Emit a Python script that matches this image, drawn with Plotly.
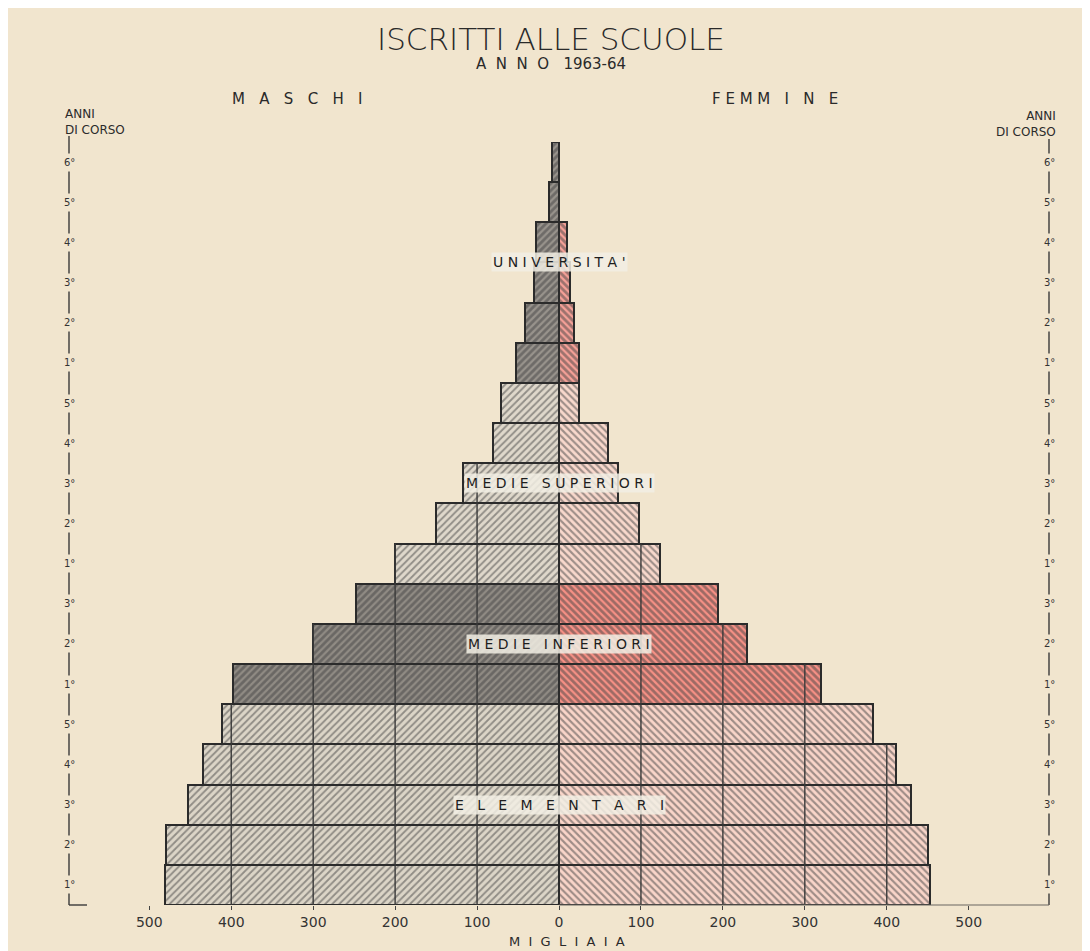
import plotly.graph_objects as go

# ---------------- data (thousands of students, 1963-64) ----------------
groups = (["ELEMENTARI"] * 5 + ["MEDIE INFERIORI"] * 3 +
          ["MEDIE SUPERIORI"] * 5 + ["UNIVERSITA'"] * 6)
years = ["1°", "2°", "3°", "4°", "5°",
         "1°", "2°", "3°",
         "1°", "2°", "3°", "4°", "5°",
         "1°", "2°", "3°", "4°", "5°", "6°"]
maschi = [481, 480, 453, 434, 411,
          398, 300, 248,
          200, 150, 117, 81, 71,
          52, 41, 31, 28, 12, 9]
femmine = [453, 450, 429, 411, 383,
           320, 230, 194,
           123, 98, 72, 60, 25,
           24, 18, 14, 10, 0, 0]
x_ticks = [-500, -400, -300, -200, -100, 0, 100, 200, 300, 400, 500]
x_ticktext = ["500", "400", "300", "200", "100", "0", "100", "200", "300", "400", "500"]
grid_vals = [100, 200, 300, 400]

# ---------------- styles ----------------
BG = "#F1E5CE"
INK = "#2b2b2b"
FONT = "DejaVu Sans"
male_style = {
    "ELEMENTARI": ("#dcd5c7", "#2a2a2a", 0.38),
    "MEDIE INFERIORI": ("#908b84", "#222222", 0.55),
    "MEDIE SUPERIORI": ("#dfd8cb", "#2a2a2a", 0.38),
    "UNIVERSITA'": ("#98938c", "#222222", 0.55),
}
female_style = {
    "ELEMENTARI": ("#f9d5c9", "#ee3a31", 0.42),
    "MEDIE INFERIORI": ("#f69085", "#e8281f", 0.55),
    "MEDIE SUPERIORI": ("#f8d8cc", "#ee453c", 0.42),
    "UNIVERSITA'": ("#f5a097", "#e4332a", 0.55),
}

W, H = 1090, 951
OFF = 8  # page offset of the figure in the screenshot
ML, MR, MT, MB = 61, 49, 134, 54
PW, PH = W - ML - MR, H - MT - MB


def px(xp):
    """screenshot x pixel -> paper coordinate"""
    return (xp - OFF - ML) / PW


def py(yp):
    """screenshot y pixel -> paper coordinate"""
    return (H - MB - (yp - OFF)) / PH


ypos = list(range(len(years)))

fig = go.Figure()
fig.add_trace(go.Bar(
    y=ypos, x=[-v for v in maschi], orientation="h", name="Maschi",
    marker=dict(
        color=[male_style[g][0] for g in groups],
        line=dict(color=INK, width=2),
        pattern=dict(shape="/", size=5,
                     bgcolor=[male_style[g][0] for g in groups],
                     fgcolor=[male_style[g][1] for g in groups],
                     solidity=[male_style[g][2] for g in groups]),
    ),
    hoverinfo="skip",
))
fig.add_trace(go.Bar(
    y=ypos, x=femmine, orientation="h", name="Femmine",
    marker=dict(
        color=[female_style[g][0] for g in groups],
        line=dict(color=INK, width=2),
        pattern=dict(shape="\\", size=5,
                     bgcolor=[female_style[g][0] for g in groups],
                     fgcolor=[female_style[g][1] for g in groups],
                     solidity=[female_style[g][2] for g in groups]),
    ),
    hoverinfo="skip",
))

shapes = []
# grid lines drawn only inside the bars that reach them
for side, vals in ((-1, maschi), (1, femmine)):
    for t in grid_vals:
        k = -1
        for i, v in enumerate(vals):
            if v >= t:
                k = i
            else:
                break
        if k >= 0:
            shapes.append(dict(type="line", xref="x", yref="y", layer="above",
                               x0=side * t, x1=side * t, y0=-0.5, y1=k + 0.5,
                               line=dict(color="#3a3a3a", width=1.4)))

# vertical "anni di corso" axes
shapes.append(dict(type="line", xref="paper", yref="paper", layer="above",
                   x0=0, x1=0, y0=0, y1=py(136),
                   line=dict(color="#3a3a3a", width=1.4)))
shapes.append(dict(type="line", xref="paper", yref="paper", layer="above",
                   x0=1, x1=1, y0=0, y1=py(139),
                   line=dict(color="#3a3a3a", width=1.4)))
# base line
shapes.append(dict(type="line", xref="paper", yref="paper", layer="above",
                   x0=0, x1=px(87), y0=0, y1=0,
                   line=dict(color="#3a3a3a", width=1.4)))
shapes.append(dict(type="line", xref="x", yref="paper", layer="above",
                   x0=0, x1=598, y0=0, y1=0,
                   line=dict(color="#6a6660", width=1.2)))

annotations = []


def txt(text, x, y, size, xanchor="center", weight="normal", color=INK, **kw):
    annotations.append(dict(text=text, x=x, y=y, xref="paper", yref="paper",
                            xanchor=xanchor, yanchor="middle", showarrow=False,
                            font=dict(family=FONT, size=size, color=color, weight=weight),
                            **kw))


NB = "\u00a0"


def spaced(word, n=1):
    return (NB * n).join(list(word))


txt("ISCRITTI ALLE SCUOLE", px(551), py(39), 31, weight=300, color="#2a2a2a")
txt(spaced("ANNO", 2) + NB * 3 + "1963-64", px(551), py(64), 15, color="#2a2a2a")
txt(spaced("MASCHI", 3), px(297), py(99), 15, color="#2a2a2a")
txt("F" + NB + "E" + NB + "M" + NB + "M" + NB * 3 + "I" + NB * 3 + "N" + NB * 3 + "E",
    px(775), py(99), 15, color="#2a2a2a")
txt("ANNI<br>DI CORSO", px(63), py(122), 12, xanchor="left", align="left")
txt("ANNI<br>DI CORSO", px(1058), py(124), 12, xanchor="right", align="right")
txt(spaced("MIGLIAIA", 2), px(567), py(941), 13, color="#2a2a2a")

# year-of-course labels on both side axes
for i, yl in enumerate(years):
    for xx in (0, 1):
        annotations.append(dict(text=yl, x=xx, y=i, xref="paper", yref="y",
                                xanchor="center", yanchor="middle", showarrow=False,
                                bgcolor=BG, borderpad=3,
                                font=dict(family=FONT, size=10, color="#333333")))

# school level labels at the middle of each group
seen = []
for g in groups:
    if g not in seen:
        seen.append(g)
for g in seen:
    idx = [i for i, gg in enumerate(groups) if gg == g]
    mid = (idx[0] + idx[-1]) / 2
    if g == "ELEMENTARI":
        label = spaced(g, 3)
    else:
        label = (NB * 3).join(spaced(w, 1) for w in g.split(" "))
    annotations.append(dict(text=label, x=0, y=mid, xref="x", yref="y",
                            xanchor="center", yanchor="middle", showarrow=False,
                            bgcolor="rgba(242,238,228,0.85)", borderpad=1,
                            font=dict(family=FONT, size=14, color="#1e1e1e")))

fig.update_layout(
    width=W, height=H,
    margin=dict(l=ML, r=MR, t=MT, b=MB, pad=0),
    paper_bgcolor=BG, plot_bgcolor="rgba(0,0,0,0)",
    barmode="overlay", bargap=0, showlegend=False,
    shapes=shapes, annotations=annotations,
    xaxis=dict(range=[-598, 598], tickvals=x_ticks, ticktext=x_ticktext,
               showgrid=False, zeroline=False, showline=False,
               ticks="outside", ticklen=4, tickcolor="#444", tickwidth=1.2,
               tickfont=dict(family=FONT, size=14, color="#333333"), fixedrange=True),
    yaxis=dict(range=[-0.5, len(years) - 0.5], showgrid=False, zeroline=False,
               showticklabels=False, ticks="", showline=False, fixedrange=True),
)

fig.write_html("out.html")
